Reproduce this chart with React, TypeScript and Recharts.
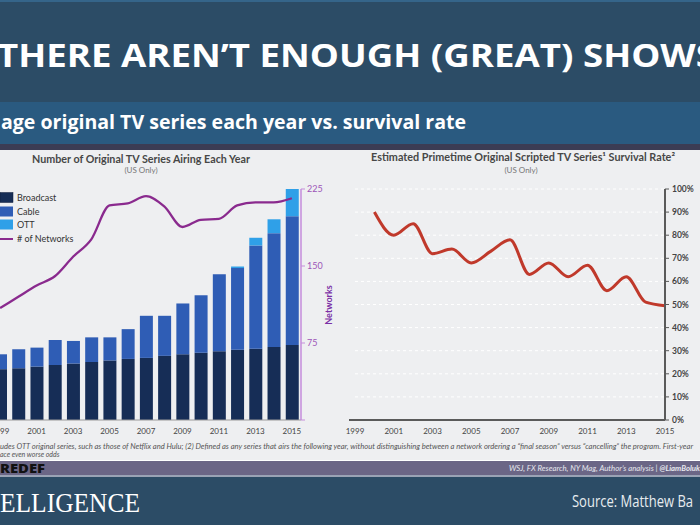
import React from 'react';
import { ComposedChart, Bar, Line, XAxis, YAxis, CartesianGrid } from 'recharts';

const YEARS = ['1999', '2000', '2001', '2002', '2003', '2004', '2005', '2006', '2007', '2008', '2009', '2010', '2011', '2012', '2013', '2014', '2015'];
const BROADCAST = [99, 101, 104, 107, 110, 113, 116, 119, 121, 125, 128, 131, 134, 137, 139, 142, 146];
const CABLE = [29, 37, 37, 49, 44, 48, 45, 58, 82, 78, 99, 112, 150, 159, 201, 222, 251];
const OTT = [0, 0, 0, 0, 0, 0, 0, 0, 0, 0, 0, 0, 0, 3, 15, 27, 53];
const NETWORKS = [109, 120, 131, 140, 159, 176, 209, 211, 218, 208, 188, 195, 196, 209, 212, 212, 216];
const SURVIVAL = [null, 90, 80, 85, 72, 74, 68, 73, 78, 63, 68, 62, 67, 56, 62, 51, 49.5];
const NETWORK_TICKS = [0, 75, 150, 225];
const SURVIVAL_TICKS = [0, 10, 20, 30, 40, 50, 60, 70, 80, 90, 100];

const data = YEARS.map((year, i) => ({
  year,
  broadcast: BROADCAST[i],
  cable: CABLE[i],
  ott: OTT[i],
  networks: NETWORKS[i],
  survival: SURVIVAL[i],
}));

const FONT = 'Lato, "Open Sans", sans-serif';
const HEAD = '"Open Sans", Lato, sans-serif';

export default function App() {
  return (
    <div style={{ position: 'absolute', left: 0, top: 0, width: 700, height: 525, overflow: 'hidden', background: '#eeeff1', fontFamily: FONT }}>
      <svg width={700} height={525} style={{ position: 'absolute', left: 0, top: 0 }}>
        <rect x={0} y={0} width={700} height={102} fill="#2c4c66" />
        <rect x={0} y={0} width={700} height={2} fill="#35658a" />
        <rect x={0} y={102} width={700} height={42} fill="#2a5a80" />
        <rect x={0} y={144} width={700} height={6} fill="#3b3c54" />
        <rect x={0} y={460} width={700} height={1} fill="#ffffff" />
        <rect x={0} y={461} width={700} height={14} fill="#6b6686" />
        <rect x={0} y={475} width={700} height={2} fill="#9aa3b5" />
        <rect x={0} y={477} width={700} height={48} fill="#2c4c66" />

        <text x={-3} y={66.5} fill="#ffffff" fontFamily={HEAD} fontWeight={700} fontSize={33} textLength={719} lengthAdjust="spacingAndGlyphs">THERE AREN’T ENOUGH (GREAT) SHOWS</text>
        <text x={1} y={129} fill="#ffffff" fontFamily={HEAD} fontWeight={700} fontSize={20} textLength={465} lengthAdjust="spacingAndGlyphs">age original TV series each year vs. survival rate</text>

        <text x={141} y={162.5} textAnchor="middle" fill="#474747" fontWeight={700} fontSize={11.5} textLength={218} lengthAdjust="spacingAndGlyphs">Number of Original TV Series Airing Each Year</text>
        <text x={141} y={173} textAnchor="middle" fill="#777777" fontSize={8}>(US Only)</text>
        <text x={523} y={160.5} textAnchor="middle" fill="#474747" fontWeight={700} fontSize={11.5} textLength={304} lengthAdjust="spacingAndGlyphs">Estimated Primetime Original  Scripted TV Series¹ Survival Rate²</text>
        <text x={521} y={172.5} textAnchor="middle" fill="#777777" fontSize={8}>(US Only)</text>

        <rect x={0} y={192.5} width={13} height={10} fill="#162d56" stroke="#0e1d3a" strokeWidth={0.5} />
        <rect x={0} y={206.5} width={13} height={10} fill="#2f5db5" />
        <rect x={0} y={219.5} width={13} height={10} fill="#2fa0e8" />
        <line x1={0} x2={13} y1={239} y2={239} stroke="#8a2a8e" strokeWidth={2} />
        <text x={17} y={200.5} fontSize={9} fill="#333">Broadcast</text>
        <text x={17} y={214.5} fontSize={9} fill="#333">Cable</text>
        <text x={17} y={227.5} fontSize={9} fill="#333">OTT</text>
        <text x={17} y={242} fontSize={9} fill="#333"># of Networks</text>

        <text transform="translate(332,305) rotate(-90)" textAnchor="middle" fontSize={9} fontWeight={700} fill="#7b2fa6">Networks</text>

        <text x={0} y={448.5} fontSize={7} fontStyle="italic" fill="#555" textLength={693} lengthAdjust="spacingAndGlyphs">udes OTT original series, such as those of Netflix and Hulu; (2) Defined as any series that airs the following year, without distinguishing between a network ordering a “final season” versus “cancelling” the program. First-year</text>
        <text x={0} y={456.5} fontSize={7} fontStyle="italic" fill="#555">ace even worse odds</text>

        <text x={0} y={473} fontFamily={HEAD} fontWeight={800} fontSize={12.5} fill="#111" textLength={45} lengthAdjust="spacingAndGlyphs">REDEF</text>
        <text x={509} y={471} fontSize={7} fontStyle="italic" fill="#e6e6ee" textLength={191} lengthAdjust="spacingAndGlyphs">WSJ, FX Research, NY Mag, Author’s analysis  |  <tspan fontWeight={700}>@LiamBoluk</tspan></text>

        <text x={0} y={512} fontFamily='"Liberation Serif", "DejaVu Serif", serif' fontSize={28} fill="#ffffff" textLength={140} lengthAdjust="spacingAndGlyphs">ELLIGENCE</text>
        <text x={572} y={506.5} fontFamily={HEAD} fontSize={16} fill="#e8ecf0" textLength={121} lengthAdjust="spacingAndGlyphs">Source: Matthew Ba</text>
      </svg>

      <div style={{ position: 'absolute', left: -9, top: 150 }}>
        <ComposedChart width={380} height={310} data={data} margin={{ top: 39, right: 40, bottom: 0, left: 0 }} style={{ fontFamily: FONT }}>
          <XAxis dataKey="year" interval={1} tickLine={false} axisLine={{ stroke: '#9a9a9a' }} tick={{ fontSize: 8, fill: '#444' }} tickSize={0} tickMargin={8} height={40} />
          <YAxis yAxisId="bars" hide domain={[0, 450]} />
          <YAxis yAxisId="net" orientation="right" domain={[0, 225]} ticks={NETWORK_TICKS} tickFormatter={(v: number) => (v === 0 ? '' : String(v))} axisLine={{ stroke: '#c58ddb', strokeWidth: 1.5 }} tickLine={{ stroke: '#c58ddb' }} tickSize={4} tickMargin={2} tick={{ fontSize: 9, fill: '#9d55b8' }} width={30} />
          <Bar yAxisId="bars" dataKey="broadcast" stackId="s" fill="#162d56" barSize={13} isAnimationActive={false} />
          <Bar yAxisId="bars" dataKey="cable" stackId="s" fill="#2f5db5" barSize={13} isAnimationActive={false} />
          <Bar yAxisId="bars" dataKey="ott" stackId="s" fill="#2fa0e8" barSize={13} isAnimationActive={false} />
          <Line yAxisId="net" dataKey="networks" type="monotone" stroke="#8a2a8e" strokeWidth={2.3} dot={false} isAnimationActive={false} />
        </ComposedChart>
      </div>

      <div style={{ position: 'absolute', left: 340, top: 150 }}>
        <ComposedChart width={360} height={310} data={data} margin={{ top: 39, right: 0, bottom: 0, left: 15 }} style={{ fontFamily: FONT }}>
          <CartesianGrid vertical={false} stroke="#ffffff" strokeDasharray="3 3" />
          <XAxis dataKey="year" interval={1} tickLine={false} axisLine={{ stroke: '#5a5a5a', strokeWidth: 2 }} tick={{ fontSize: 8, fill: '#444' }} tickSize={0} tickMargin={8} height={40} />
          <YAxis orientation="right" domain={[0, 100]} ticks={SURVIVAL_TICKS} tickFormatter={(v: number) => `${v}%`} axisLine={{ stroke: '#5a5a5a', strokeWidth: 2 }} tickLine={{ stroke: '#5a5a5a' }} tickSize={4} tickMargin={3} width={35} tick={{ fontSize: 8.5, fill: '#444', fontWeight: 700 }} />
          <Line dataKey="survival" type="monotone" stroke="#c0392b" strokeWidth={3} dot={false} connectNulls isAnimationActive={false} />
        </ComposedChart>
      </div>
      <svg width={10} height={4} style={{ position: 'absolute', left: 349, top: 418 }}>
        <rect x={0} y={1} width={8} height={2} fill="#5a5a5a" />
      </svg>
    </div>
  );
}
